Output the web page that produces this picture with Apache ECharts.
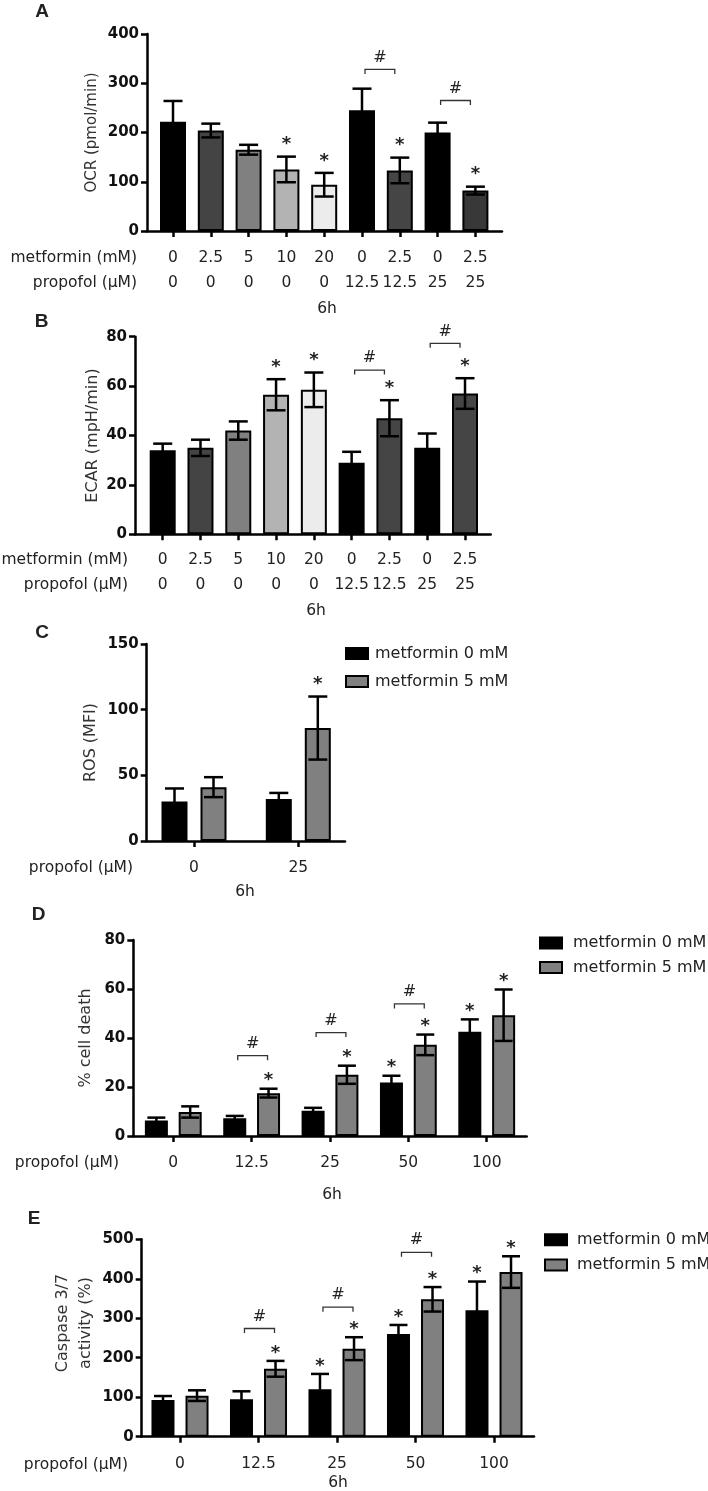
<!DOCTYPE html>
<html>
<head>
<meta charset="utf-8">
<script src="https://cdn.jsdelivr.net/npm/echarts@6/dist/echarts.min.js"></script>
<style>html,body{margin:0;padding:0;background:#fff}#c{width:708px;height:1491px}</style>
</head>
<body>
<div id="c"></div>
<script>
// ---------------- DATA ----------------
// Panel A (OCR) & B (ECAR): 9 conditions
const metforminDoses = ['0', '2.5', '5', '10', '20', '0', '2.5', '0', '2.5'];
const propofolDoses  = ['0', '0', '0', '0', '0', '12.5', '12.5', '25', '25'];
const ocrMean = [222, 204, 165, 125, 94, 245, 123, 200, 82];
const ocrErr  = [42, 14, 10, 26, 24, 44, 26, 20, 8];
const ocrStar = [0, 0, 0, 1, 1, 0, 1, 0, 1];
const ocrHash = [[5, 6, 328], [7, 8, 265]];
const ecarMean = [34, 35, 42, 56.5, 58.5, 29, 47, 35, 57];
const ecarErr  = [2.7, 3.3, 3.7, 6.3, 7, 4.4, 7.3, 5.8, 6.2];
const ecarStar = [0, 0, 0, 1, 1, 0, 1, 0, 1];
const ecarHash = [[5, 6, 66.5], [7, 8, 77.3]];
// Panel C (ROS)
const rosPropofol = ['0', '25'];
const rosMet0 = [30, 32];
const rosMet0Err = [10, 4.6];
const rosMet0Star = [0, 0];
const rosMet5 = [41, 86];
const rosMet5Err = [7.6, 24];
const rosMet5Star = [0, 1];
// Panel D (% cell death) & E (caspase)
const propofolLevels = ['0', '12.5', '25', '50', '100'];
const deathMet0 = [6.3, 7.2, 10.3, 21.8, 42.6];
const deathMet0Err = [1.2, 1, 1.2, 2.8, 5];
const deathMet0Star = [0, 0, 0, 1, 1];
const deathMet5 = [9.8, 17.5, 25, 37.2, 49.3];
const deathMet5Err = [2.3, 1.8, 3.7, 4.2, 10.5];
const deathMet5Star = [0, 1, 1, 1, 1];
const deathHash = [[1, 32.8], [2, 42.2], [3, 53.9]];
const caspMet0 = [93, 95, 120, 260, 320];
const caspMet0Err = [10, 20, 39, 23, 73];
const caspMet0Star = [0, 0, 1, 1, 1];
const caspMet5 = [104, 172, 223, 348, 417];
const caspMet5Err = [13.5, 20, 29, 31, 40];
const caspMet5Star = [0, 1, 1, 1, 1];
const caspHash = [[1, 274], [2, 328], [3, 467]];
const seriesNames = ['metformin 0 mM', 'metformin 5 mM'];

// ---------------- STYLE / LAYOUT ----------------
const FONT = '"DejaVu Sans", sans-serif';
const shadesA = ['#000000', '#444444', '#808080', '#b3b3b3', '#ececec', '#000000', '#454545', '#000000', '#383838'];
const shadesB = ['#000000', '#444444', '#808080', '#b3b3b3', '#ececec', '#000000', '#454545', '#000000', '#454545'];
const pairColors = ['#000000', '#808080'];

const panels = [
  { line: {left: 147, top: 34, width: 355, height: 197}, bar: {left: 154.1, width: 340.2}, min: 0, max: 400, interval: 100,
    name: 'OCR (pmol/min)', nameGap: 43, nameSize: 15, barW: 26, starGap: 16, labelMargin: 14 },
  { line: {left: 135, top: 336.7, width: 355.7, height: 197.6}, bar: {left: 143.8, width: 340.1}, min: 0, max: 80, interval: 20,
    name: 'ECAR (mpH/min)', nameGap: 31, nameSize: 16, barW: 26, starGap: 16, labelMargin: 13 },
  { line: {left: 146.7, top: 644, width: 198.3, height: 197}, bar: {left: 141.85, width: 208.6}, min: 0, max: 150, interval: 50,
    name: 'ROS (MFI)', nameGap: 44.5, nameSize: 16, barW: 26, gap: 0.5, starGap: 16, labelMargin: 14.5 },
  { line: {left: 133.3, top: 940, width: 393.4, height: 196}, bar: {left: 134.1, width: 391.8}, min: 0, max: 80, interval: 20,
    name: '% cell death', nameGap: 36, nameSize: 16, barW: 23, gap: 0.47, starGap: 12, labelMargin: 14.5 },
  { line: {left: 141.7, top: 1239.3, width: 392.3, height: 197.4}, bar: {left: 140.75, width: 392.5}, min: 0, max: 500, interval: 100,
    name: 'Caspase 3/7\nactivity (%)', nameGap: 44, nameSize: 16, barW: 23, gap: 0.48, starGap: 12, labelMargin: 14.5 }
];

const grid = [], xAxis = [], yAxis = [], series = [];
panels.forEach((p, i) => {
  grid.push({ left: p.line.left, top: p.line.top, width: p.line.width, height: p.line.height });
  grid.push({ left: p.bar.left, top: p.line.top, width: p.bar.width, height: p.line.height });
  xAxis.push({ type: 'value', gridIndex: 2 * i, min: 0, max: 1, axisLine: { show: true, lineStyle: { color: '#000', width: 2.5 } },
    axisTick: { show: false }, axisLabel: { show: false }, splitLine: { show: false } });
  yAxis.push({ type: 'value', gridIndex: 2 * i, min: p.min, max: p.max, interval: p.interval,
    axisLine: { show: true, lineStyle: { color: '#000', width: 2.5 } },
    axisTick: { show: true, length: 6, lineStyle: { color: '#000', width: 2.5 } },
    axisLabel: { margin: 8, color: '#111', fontFamily: FONT, fontWeight: 'bold', fontSize: 15 },
    splitLine: { show: false },
    name: p.name, nameLocation: 'middle', nameGap: p.nameGap, nameMoveOverlap: false,
    nameTextStyle: { color: '#333', fontFamily: FONT, fontSize: p.nameSize, lineHeight: 23,
      padding: i === 4 ? [0, 0, 0, 30] : 0 } });
  yAxis.push({ type: 'value', gridIndex: 2 * i + 1, min: p.min, max: p.max, show: false });
});

function catAxis(gi, cats, margin) {
  return { type: 'category', gridIndex: gi, data: cats, axisLine: { show: false },
    axisTick: { show: true, alignWithLabel: true, length: 6, lineStyle: { color: '#000', width: 2.5 } },
    axisLabel: { interval: 0, margin: margin, color: '#222', fontFamily: FONT, fontSize: 15.5, lineHeight: 25 },
    splitLine: { show: false } };
}
const comboLabels = metforminDoses.map((m, k) => m + '\n' + propofolDoses[k]);
xAxis.push(catAxis(1, comboLabels, panels[0].labelMargin));
xAxis.push(catAxis(3, comboLabels, panels[1].labelMargin));
xAxis.push(catAxis(5, rosPropofol, panels[2].labelMargin));
xAxis.push(catAxis(7, propofolLevels, panels[3].labelMargin));
xAxis.push(catAxis(9, propofolLevels, panels[4].labelMargin));

const lineStyleErr = { stroke: '#000', lineWidth: 2.5 };
function errSeries(ai, means, errs, stars, offsetPx, capW, starGap) {
  return {
    type: 'custom', xAxisIndex: ai.x, yAxisIndex: ai.y, z: 5, silent: true, clip: false,
    data: means.map((m, k) => [k, m, errs[k], stars[k]]),
    renderItem: function (params, api) {
      const k = api.value(0), m = api.value(1), e = api.value(2);
      const c = api.coord([k, m]);
      const t = api.coord([k, m + e]);
      const b = api.coord([k, m - e]);
      const x = c[0] + offsetPx, h = capW / 2;
      const ch = [
        { type: 'line', shape: { x1: x, y1: t[1], x2: x, y2: b[1] }, style: lineStyleErr },
        { type: 'line', shape: { x1: x - h, y1: t[1], x2: x + h, y2: t[1] }, style: lineStyleErr },
        { type: 'line', shape: { x1: x - h, y1: b[1], x2: x + h, y2: b[1] }, style: lineStyleErr }
      ];
      if (api.value(3)) {
        ch.push({ type: 'text', style: { text: '*', x: x, y: t[1] - starGap + 4, align: 'center', verticalAlign: 'middle',
          textAlign: 'center', textVerticalAlign: 'middle', font: 'bold 18px ' + FONT, fill: '#222' } });
      }
      return { type: 'group', children: ch };
    }
  };
}
function bracketSeries(ai, items, grouped, offsetPx) {
  return {
    type: 'custom', xAxisIndex: ai.x, yAxisIndex: ai.y, z: 6, silent: true, clip: false,
    data: items,
    renderItem: function (params, api) {
      let l, r, y;
      if (grouped) {
        const c = api.coord([api.value(0), api.value(1)]);
        l = c[0] - offsetPx + 3; r = c[0] + offsetPx - 1; y = c[1];
      } else {
        const a = api.coord([api.value(0), api.value(2)]);
        const bb = api.coord([api.value(1), api.value(2)]);
        l = a[0] + 3; r = bb[0] - 5; y = a[1];
      }
      return { type: 'group', children: [
        { type: 'polyline', shape: { points: [[l, y + 4.5], [l, y], [r, y], [r, y + 4.5]] }, style: { stroke: '#333', lineWidth: 1.3, fill: null } },
        { type: 'text', style: { text: '#', x: (l + r) / 2, y: y - 12, align: 'center', verticalAlign: 'middle',
          textAlign: 'center', textVerticalAlign: 'middle', font: '16px ' + FONT, fill: '#222' } }
      ] };
    }
  };
}

const barItem = (color) => ({ color: color, borderColor: '#000', borderWidth: 2 });
// Panel A
series.push({ type: 'bar', xAxisIndex: 5, yAxisIndex: 1, barWidth: panels[0].barW, silent: true,
  data: ocrMean.map((v, k) => ({ value: v, itemStyle: barItem(shadesA[k]) })) });
series.push(errSeries({ x: 5, y: 1 }, ocrMean, ocrErr, ocrStar, 0, 19, panels[0].starGap));
series.push(bracketSeries({ x: 5, y: 1 }, ocrHash, false));
// Panel B
series.push({ type: 'bar', xAxisIndex: 6, yAxisIndex: 3, barWidth: panels[1].barW, silent: true,
  data: ecarMean.map((v, k) => ({ value: v, itemStyle: barItem(shadesB[k]) })) });
series.push(errSeries({ x: 6, y: 3 }, ecarMean, ecarErr, ecarStar, 0, 19, panels[1].starGap));
series.push(bracketSeries({ x: 6, y: 3 }, ecarHash, false));
// Grouped panels
function grouped(pi, xi, yi, m0, e0, s0, m5, e5, s5, hash) {
  const p = panels[pi];
  const off = p.barW * (1 + p.gap) / 2;
  series.push({ type: 'bar', name: seriesNames[0], xAxisIndex: xi, yAxisIndex: yi, barWidth: p.barW, barGap: (p.gap * 100) + '%',
    silent: true, itemStyle: barItem(pairColors[0]), data: m0 });
  series.push({ type: 'bar', name: seriesNames[1], xAxisIndex: xi, yAxisIndex: yi, barWidth: p.barW, barGap: (p.gap * 100) + '%',
    silent: true, itemStyle: barItem(pairColors[1]), data: m5 });
  series.push(errSeries({ x: xi, y: yi }, m0, e0, s0, -off, pi === 2 ? 19 : 18, p.starGap));
  series.push(errSeries({ x: xi, y: yi }, m5, e5, s5, off, pi === 2 ? 19 : 18, p.starGap));
  if (hash) series.push(bracketSeries({ x: xi, y: yi }, hash, true, off));
}
grouped(2, 7, 5, rosMet0, rosMet0Err, rosMet0Star, rosMet5, rosMet5Err, rosMet5Star, null);
grouped(3, 8, 7, deathMet0, deathMet0Err, deathMet0Star, deathMet5, deathMet5Err, deathMet5Star, deathHash);
grouped(4, 9, 9, caspMet0, caspMet0Err, caspMet0Star, caspMet5, caspMet5Err, caspMet5Star, caspHash);

function legendAt(left, top, gap, textPad) {
  return { orient: 'vertical', left: left, top: top, padding: 0, itemGap: gap, itemWidth: 22, itemHeight: 11, icon: 'rect',
    selectedMode: false, data: seriesNames,
    itemStyle: { borderColor: '#000', borderWidth: 2 },
    textStyle: { color: '#222', fontFamily: FONT, fontSize: 16, padding: [0, 0, 0, textPad] } };
}

function txt(text, x, y, opts) {
  return { type: 'text', x: x, y: y, silent: true,
    style: Object.assign({ text: text, font: '15.5px ' + FONT, fill: '#222', align: 'right', verticalAlign: 'middle',
      textAlign: 'right', textVerticalAlign: 'middle' }, opts || {}) };
}
const letter = (t, x, y) => txt(t, x, y, { font: 'bold 19px "Liberation Sans", Arial, sans-serif', align: 'center', textAlign: 'center', fill: '#222' });
const center = (t, x, y) => txt(t, x, y, { align: 'center', textAlign: 'center' });

const graphic = [
  letter('A', 42, 12), letter('B', 41.5, 322), letter('C', 42, 633), letter('D', 38.5, 915), letter('E', 34, 1219),
  txt('metformin (mM)', 137, 258), txt('propofol (μM)', 137, 283), center('6h', 327, 309),
  txt('metformin (mM)', 128, 560), txt('propofol (μM)', 128, 585), center('6h', 316, 611),
  txt('propofol (μM)', 133, 868), center('6h', 245, 892),
  txt('propofol (μM)', 119, 1163), center('6h', 332, 1195),
  txt('propofol (μM)', 128, 1465), center('6h', 338, 1483)
];

const chart = echarts.init(document.getElementById('c'), null, { renderer: 'canvas' });
chart.setOption({
  animation: false,
  backgroundColor: '#fff',
  grid: grid,
  xAxis: xAxis,
  yAxis: yAxis,
  legend: [legendAt(345, 645.5, 12, 2), legendAt(539, 935, 8.5, 6), legendAt(544, 1231.7, 9.3, 5)],
  series: series,
  graphic: graphic
});
</script>
</body>
</html>
